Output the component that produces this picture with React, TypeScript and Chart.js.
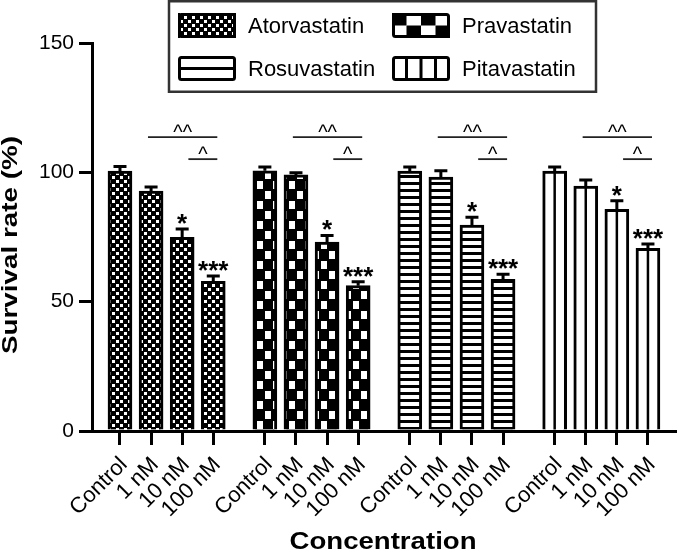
import { useEffect, useRef } from 'react';
import { Chart, registerables } from 'chart.js';

Chart.register(...registerables);

const SERIES = ['Atorvastatin', 'Pravastatin', 'Rosuvastatin', 'Pitavastatin'];
const CONCENTRATIONS = ['Control', '1 nM', '10 nM', '100 nM'];
const ATORVASTATIN = [100.5, 92.8, 74.9, 57.9];
const ATORVASTATIN_ERR = [1.8, 1.5, 3.2, 2.0];
const PRAVASTATIN = [100.6, 99.0, 73.0, 56.2];
const PRAVASTATIN_ERR = [1.5, 0.8, 2.6, 1.5];
const ROSUVASTATIN = [100.5, 98.2, 79.6, 58.6];
const ROSUVASTATIN_ERR = [1.6, 2.4, 3.0, 2.0];
const PITAVASTATIN = [100.5, 94.7, 85.7, 70.6];
const PITAVASTATIN_ERR = [1.6, 2.3, 3.3, 1.7];
const SIG_MARKS = ['', '', '*', '***'];
const Y_TICKS = [0, 50, 100, 150];
const BRACKET_LABELS = ['^^', '^'];
const BRACKET_LEVELS = [113.6, 105.1];
const Y_TITLE = 'Survival rate (%)';
const X_TITLE = 'Concentration';

const VALUES = [ATORVASTATIN, PRAVASTATIN, ROSUVASTATIN, PITAVASTATIN];
const ERRORS = [ATORVASTATIN_ERR, PRAVASTATIN_ERR, ROSUVASTATIN_ERR, PITAVASTATIN_ERR];

// layout (slot units on the linear x scale)
const GROUP_STEP = 4.66;
const BRACKET_SPANS = [
  [0.9, 3.13],
  [2.2, 3.13],
];
const FONT = "'Liberation Sans', Arial, Helvetica, sans-serif";

const posOf = (g: number, i: number) => g * GROUP_STEP + i;
const TICK_POSITIONS: number[] = [];
VALUES.forEach((vals, g) => vals.forEach((_, i) => TICK_POSITIONS.push(posOf(g, i))));

function makePattern(w: number, h: number, draw: (c: CanvasRenderingContext2D) => void) {
  const cv = document.createElement('canvas');
  cv.width = w;
  cv.height = h;
  const c = cv.getContext('2d')!;
  draw(c);
  return c.createPattern(cv, 'repeat')!;
}

export default function App() {
  const ref = useRef<HTMLCanvasElement | null>(null);

  useEffect(() => {
    if (!ref.current) return;

    const smallChecker = makePattern(8, 8, (c) => {
      c.fillStyle = '#000';
      c.fillRect(0, 0, 8, 8);
      c.fillStyle = '#fff';
      c.fillRect(0, 0, 3, 3);
      c.fillRect(4, 4, 3, 3);
    });
    const bigChecker = makePattern(16, 20, (c) => {
      c.fillStyle = '#000';
      c.fillRect(0, 0, 16, 20);
      c.fillStyle = '#fff';
      c.fillRect(1, 1, 6, 8);
      c.fillRect(9, 11, 6, 8);
    });
    const hLines = makePattern(8, 7, (c) => {
      c.fillStyle = '#fff';
      c.fillRect(0, 0, 8, 7);
      c.fillStyle = '#000';
      c.fillRect(0, 0, 8, 3);
    });
    const fills = [smallChecker, bigChecker, hLines, '#ffffff'];

    const datasets = VALUES.map((vals, g) => ({
      label: SERIES[g],
      data: vals.map((v, i) => ({ x: posOf(g, i), y: v })),
      backgroundColor: fills[g] as any,
      borderColor: '#000',
      borderWidth: 3,
      barThickness: 24,
      grouped: false,
    }));

    const overlayPlugin = {
      id: 'overlay',
      afterDatasetsDraw(chart: any) {
        const ctx = chart.ctx as CanvasRenderingContext2D;
        const ys = chart.scales.y;
        const xs = chart.scales.x;
        ctx.save();
        chart.data.datasets.forEach((ds: any, di: number) => {
          const meta = chart.getDatasetMeta(di);
          meta.data.forEach((el: any, i: number) => {
            // Pitavastatin centre line
            if (di === 3) {
              ctx.strokeStyle = '#000';
              ctx.lineWidth = 2.5;
              ctx.beginPath();
              ctx.moveTo(el.x, el.y);
              ctx.lineTo(el.x, el.base);
              ctx.stroke();
            }
            const v = ds.data[i].y;
            const top = ys.getPixelForValue(v + ERRORS[di][i]);
            ctx.strokeStyle = '#000';
            ctx.lineWidth = 3;
            ctx.beginPath();
            ctx.moveTo(el.x, el.y);
            ctx.lineTo(el.x, top);
            ctx.moveTo(el.x - 6.5, top);
            ctx.lineTo(el.x + 6.5, top);
            ctx.stroke();
            if (SIG_MARKS[i]) {
              ctx.fillStyle = '#000';
              ctx.font = `bold 26px ${FONT}`;
              ctx.textAlign = 'center';
              ctx.textBaseline = 'alphabetic';
              ctx.fillText(SIG_MARKS[i], el.x, top + 3);
            }
          });
          // brackets
          BRACKET_SPANS.forEach((span, bi) => {
            const x1 = xs.getPixelForValue(posOf(di, span[0]));
            const x2 = xs.getPixelForValue(posOf(di, span[1]));
            const yy = ys.getPixelForValue(BRACKET_LEVELS[bi]);
            ctx.strokeStyle = '#222';
            ctx.lineWidth = 1.8;
            ctx.beginPath();
            ctx.moveTo(x1, yy);
            ctx.lineTo(x2, yy);
            ctx.stroke();
            ctx.fillStyle = '#000';
            ctx.font = `20px ${FONT}`;
            ctx.textAlign = 'center';
            ctx.textBaseline = 'alphabetic';
            ctx.fillText(BRACKET_LABELS[bi], (x1 + x2) / 2, yy + 2);
          });
        });
        ctx.restore();
      },
      afterDraw(chart: any) {
        const ctx = chart.ctx as CanvasRenderingContext2D;
        ctx.save();
        // axis titles (stretched like the reference)
        ctx.fillStyle = '#000';
        ctx.font = `bold 22px ${FONT}`;
        ctx.textAlign = 'center';
        ctx.textBaseline = 'alphabetic';
        ctx.save();
        ctx.translate(17, 245);
        ctx.rotate(-Math.PI / 2);
        const wy = ctx.measureText(Y_TITLE).width;
        ctx.scale(218 / wy, 1);
        ctx.fillText(Y_TITLE, 0, 0);
        ctx.restore();
        ctx.save();
        ctx.font = `bold 23px ${FONT}`;
        ctx.translate(383, 549);
        const wx = ctx.measureText(X_TITLE).width;
        ctx.scale(187 / wx, 1);
        ctx.fillText(X_TITLE, 0, 0);
        ctx.restore();

        // legend box
        ctx.fillStyle = '#fff';
        ctx.fillRect(169, 1, 427, 91);
        ctx.strokeStyle = '#333';
        ctx.lineWidth = 2.5;
        ctx.strokeRect(169, 1.25, 427, 90.5);
        const colX = [178, 392];
        const rowY = [13, 56];
        const sw = 58;
        const sh = 25;
        SERIES.forEach((name, i) => {
          const x = colX[i % 2];
          const y = rowY[Math.floor(i / 2)];
          ctx.save();
          ctx.beginPath();
          ctx.rect(x, y, sw, sh);
          ctx.clip();
          if (i === 0) {
            ctx.fillStyle = smallChecker;
            ctx.fillRect(x, y, sw, sh);
          } else if (i === 1) {
            ctx.fillStyle = '#fff';
            ctx.fillRect(x, y, sw, sh);
            ctx.fillStyle = '#000';
            const cw = sw / 4;
            const ch = sh / 2;
            for (let r = 0; r < 2; r++)
              for (let c = 0; c < 4; c++)
                if ((r + c) % 2 === 0) ctx.fillRect(x + c * cw, y + r * ch, cw, ch);
          } else if (i === 2) {
            ctx.fillStyle = '#fff';
            ctx.fillRect(x, y, sw, sh);
            ctx.fillStyle = '#000';
            ctx.fillRect(x, y + sh / 2 - 1.5, sw, 3);
          } else {
            ctx.fillStyle = '#fff';
            ctx.fillRect(x, y, sw, sh);
            ctx.fillStyle = '#000';
            for (let k = 1; k < 4; k++) ctx.fillRect(x + (k * sw) / 4 - 1.5, y, 3, sh);
          }
          ctx.restore();
          ctx.strokeStyle = '#000';
          ctx.lineWidth = 3;
          ctx.beginPath();
          (ctx as any).roundRect(x + 1.5, y + 1.5, sw - 3, sh - 3, 2);
          ctx.stroke();
          ctx.fillStyle = '#000';
          ctx.font = `22px ${FONT}`;
          ctx.textAlign = 'left';
          ctx.textBaseline = 'middle';
          ctx.fillText(name, x + 70, y + sh / 2 + 1);
        });
        ctx.restore();
      },
    };

    const chart = new Chart(ref.current, {
      type: 'bar',
      data: { datasets: datasets as any },
      options: {
        animation: false,
        responsive: false,
        maintainAspectRatio: false,
        layout: { padding: { top: 43, right: 2, bottom: 0, left: 0 } },
        plugins: {
          legend: { display: false },
          tooltip: { enabled: false },
        },
        scales: {
          x: {
            type: 'linear',
            min: -0.9,
            max: 17.85,
            offset: false,
            z: 1,
            afterBuildTicks: (s: any) => {
              s.ticks = TICK_POSITIONS.map((v) => ({ value: v }));
            },
            afterFit: (s: any) => {
              s.height = 123;
            },
            grid: {
              display: true,
              drawOnChartArea: false,
              drawTicks: true,
              tickLength: 14,
              color: '#000',
              lineWidth: 3,
              offset: false,
            },
            border: { display: true, color: '#000', width: 3 },
            ticks: {
              autoSkip: false,
              minRotation: 45,
              maxRotation: 45,
              padding: 7,
              labelOffset: 4,
              color: '#000',
              font: { family: FONT, size: 22 },
              callback: (_v: any, i: number) => CONCENTRATIONS[i % 4],
            },
          } as any,
          y: {
            type: 'linear',
            min: 0,
            max: 150,
            z: 1,
            afterBuildTicks: (s: any) => {
              s.ticks = Y_TICKS.map((v) => ({ value: v }));
            },
            afterFit: (s: any) => {
              s.width = 92;
            },
            grid: {
              drawOnChartArea: false,
              drawTicks: true,
              tickLength: 13,
              color: '#000',
              lineWidth: 3,
            },
            border: { display: true, color: '#000', width: 3 },
            ticks: {
              padding: 5,
              color: '#000',
              font: { family: FONT, size: 21 },
            },
          } as any,
        },
      },
      plugins: [overlayPlugin],
    });

    return () => chart.destroy();
  }, []);

  return (
    <div style={{ position: 'fixed', left: 0, top: 0, width: 677, height: 554, background: '#fff' }}>
      <canvas ref={ref} width={677} height={554} style={{ width: 677, height: 554, display: 'block' }} />
    </div>
  );
}
